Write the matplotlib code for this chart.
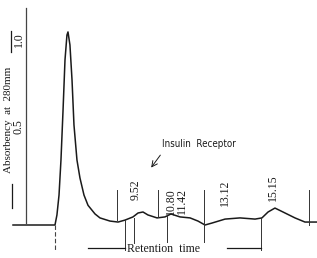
import matplotlib
matplotlib.use("Agg")
from matplotlib import pyplot as plt
import numpy as np

# chromatogram trace (time in min, absorbance at 280 nm)
time = [-1.0, 2.23, 2.38, 2.54, 2.69, 2.85, 3.0, 3.15, 3.23, 3.38, 3.54, 3.69,
        3.92, 4.15, 4.46, 4.77, 5.31, 5.69, 6.46, 7.08, 7.62, 8.23, 8.62, 9.0,
        9.38, 10.08, 10.69, 11.15, 11.85, 12.62, 13.23, 13.77, 14.31, 15.31,
        16.46, 17.62, 18.15, 18.62, 19.15, 19.77, 20.69, 21.46, 22.4]
absorb = [0.0, 0.0, 0.051, 0.152, 0.33, 0.584, 0.838, 0.964, 0.98, 0.914, 0.736,
          0.508, 0.33, 0.239, 0.152, 0.10, 0.056, 0.036, 0.02, 0.015, 0.025,
          0.041, 0.061, 0.066, 0.051, 0.036, 0.041, 0.056, 0.041, 0.036, 0.02,
          0.0, 0.01, 0.03, 0.036, 0.03, 0.036, 0.066, 0.086, 0.066, 0.036,
          0.015, 0.015]

# integrator marks: time, top, bottom
mark_t = [7.0, 7.62, 8.31, 10.15, 10.85, 13.69, 18.08, 21.77]
mark_top = [0.178, 0.025, 0.036, 0.178, 0.051, 0.178, 0.036, 0.178]
mark_bot = [0.025, -0.127, -0.091, 0.041, -0.086, -0.086, -0.127, 0.0]

rt_labels = ["9.52", "10.80", "11.42", "13.12", "15.15"]
rt_x = [8.4, 11.15, 12.0, 15.3, 19.0]
rt_y = [0.178, 0.12, 0.12, 0.165, 0.19]

ink = "#1a1a1a"
serif = dict(family="Liberation Serif", color=ink)
sans = dict(family="DejaVu Sans", fontstretch="condensed", color=ink)

fig = plt.figure(figsize=(3.17, 2.58), dpi=100)
ax = fig.add_axes([0, 0, 1, 1])
ax.set_xlim(-2, 22.385)
ax.set_ylim(-0.1675, 1.1421)
ax.axis("off")

ax.plot(time, absorb, color=ink, lw=1.1)

# y axis line
ax.plot([0, 0], [0.01, 1.10], color="#444444", lw=0.9)
# injection mark
ax.plot([2.23, 2.23], [0, -0.127], color="#444444", lw=0.8, ls=(0, (4, 2)))

for t, a, b in zip(mark_t, mark_top, mark_bot):
    ax.plot([t, t], [a, b], color="#333333", lw=0.7)

# retention time brackets
ax.plot([4.77, 7.62], [-0.117, -0.117], color=ink, lw=0.9)
ax.plot([15.46, 18.08], [-0.117, -0.117], color=ink, lw=0.9)

for lab, x, y in zip(rt_labels, rt_x, rt_y):
    ax.text(x, y, lab, rotation=90, ha="center", va="center", fontsize=8.5, **serif)

ax.text(7.8, -0.122, "Retention  time", ha="left", va="center", fontsize=8.5, **serif)
ax.text(10.5, 0.41, "Insulin  Receptor", ha="left", va="center", fontsize=7, **sans)
ax.annotate("", xy=(9.5, 0.28), xytext=(10.46, 0.366),
            arrowprops=dict(arrowstyle="->", color=ink, lw=0.7))

# y labels
ax.text(-1.38, 0.535, "Absorbency  at  280mm", rotation=90, ha="center",
        va="center", fontsize=8, **serif)
ax.text(-0.55, 0.5, "0.5", rotation=90, ha="center", va="center", fontsize=8.5, **serif)
ax.text(-0.55, 0.94, "1.0", rotation=90, ha="center", va="center", fontsize=8.5, **serif)
ax.plot([-1.15, -1.15], [0.985, 0.88], color=ink, lw=0.9)
ax.plot([-1.08, -1.08], [0.208, 0.086], color=ink, lw=0.9)

plt.savefig("out.png", dpi=100)
